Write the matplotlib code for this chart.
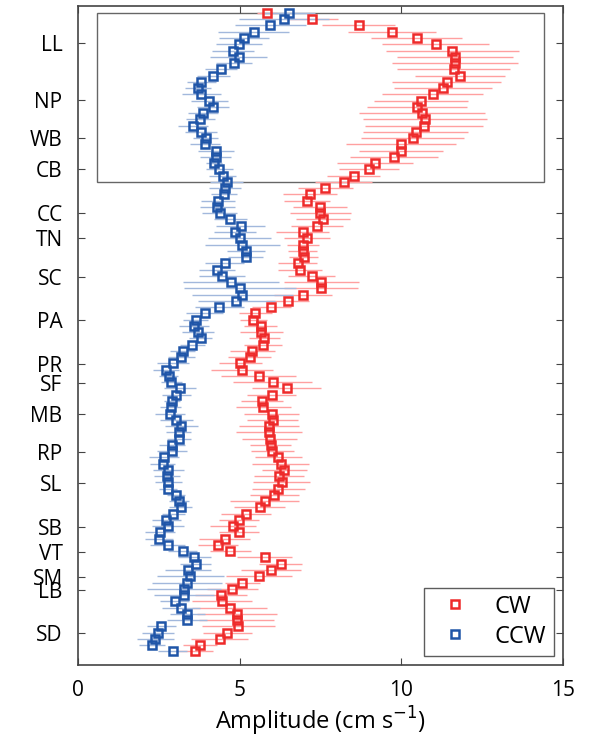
import matplotlib.pyplot as plt
import numpy as np
from matplotlib.patches import Rectangle

# amplitude per alongshore station (north -> south), cm/s
cw = [5.85, 7.24, 8.68, 9.71, 10.48, 11.07, 11.58, 11.66, 11.66, 11.62,
      11.81, 11.41, 11.30, 10.97, 10.61, 10.50, 10.64, 10.74, 10.71, 10.45,
      10.35, 9.99, 9.99, 9.78, 9.20, 9.01, 8.53, 8.22, 7.65, 7.18,
      7.09, 7.49, 7.50, 7.58, 7.40, 6.96, 7.08, 6.96, 6.96, 6.98,
      6.80, 6.88, 7.23, 7.52, 7.52, 6.96, 6.49, 5.98, 5.49, 5.43,
      5.65, 5.67, 5.77, 5.73, 5.40, 5.31, 5.02, 5.08, 5.59, 6.02,
      6.46, 5.99, 5.70, 5.74, 5.99, 6.02, 5.91, 5.91, 5.94, 5.96,
      6.01, 6.20, 6.27, 6.39, 6.23, 6.30, 6.20, 6.08, 5.78, 5.62,
      5.21, 4.98, 4.80, 4.97, 4.54, 4.33, 4.72, 5.78, 6.27, 5.98,
      5.60, 5.08, 4.78, 4.42, 4.45, 4.69, 4.92, 4.91, 4.96, 4.62,
      4.39, 3.78, 3.62]
cw_err = [0.30, 0.80, 1.12, 1.37, 1.40, 1.65, 2.06, 1.80, 1.94, 1.75,
          1.39, 1.69, 1.52, 1.56, 1.46, 1.55, 1.94, 1.92, 1.83, 1.62,
          1.60, 1.70, 1.29, 1.35, 1.18, 0.93, 0.82, 0.88, 0.85, 0.84,
          0.70, 0.84, 0.95, 0.84, 0.81, 0.82, 0.72, 0.49, 0.45, 0.44,
          0.60, 0.68, 0.72, 1.16, 1.13, 0.90, 0.67, 0.60, 0.50, 0.41,
          0.52, 0.67, 0.49, 0.58, 0.71, 0.67, 0.67, 0.95, 1.16, 1.23,
          1.07, 0.77, 0.65, 0.85, 0.85, 0.78, 0.92, 1.01, 0.85, 0.64,
          0.67, 0.72, 0.89, 0.70, 0.77, 0.89, 0.81, 0.75, 1.07, 0.80,
          0.77, 0.62, 0.70, 0.62, 0.78, 0.62, 0.62, 0.85, 0.66, 0.93,
          1.03, 0.54, 0.79, 0.80, 0.93, 1.16, 1.24, 1.17, 1.13, 0.75,
          0.88, 0.52, 0.57]
ccw = [6.53, 6.37, 5.95, 5.44, 5.13, 4.98, 4.79, 4.97, 4.83, 4.42,
       4.19, 3.82, 3.71, 3.82, 4.06, 4.18, 3.87, 3.79, 3.57, 3.81,
       3.95, 3.93, 4.27, 4.27, 4.22, 4.37, 4.48, 4.60, 4.54, 4.52,
       4.33, 4.31, 4.39, 4.72, 5.03, 4.85, 5.00, 5.09, 5.20, 5.19,
       4.54, 4.30, 4.46, 4.73, 5.02, 5.08, 4.90, 4.38, 3.92, 3.64,
       3.60, 3.71, 3.80, 3.54, 3.24, 3.20, 2.94, 2.73, 2.81, 2.89,
       3.15, 3.05, 2.92, 2.87, 2.86, 3.05, 3.20, 3.12, 3.13, 2.92,
       2.90, 2.66, 2.62, 2.80, 2.75, 2.80, 2.80, 3.04, 3.12, 3.18,
       2.95, 2.74, 2.78, 2.53, 2.51, 2.78, 3.24, 3.60, 3.64, 3.40,
       3.48, 3.38, 3.28, 3.27, 2.99, 3.20, 3.38, 3.37, 2.58, 2.48,
       2.40, 2.30, 2.93]
ccw_err = [0.80, 1.40, 1.10, 1.10, 0.78, 0.72, 0.65, 0.88, 0.55, 0.50,
           0.50, 0.45, 0.41, 0.60, 0.57, 0.49, 0.46, 0.46, 0.46, 0.50,
           0.38, 0.47, 0.56, 0.48, 0.25, 0.42, 0.41, 0.50, 0.49, 0.39,
           0.52, 0.54, 0.54, 0.52, 0.76, 0.65, 0.97, 1.17, 0.59, 0.55,
           0.60, 0.55, 0.72, 1.49, 1.73, 1.56, 1.19, 0.77, 0.57, 0.39,
           0.46, 0.50, 0.36, 0.39, 0.39, 0.41, 0.49, 0.41, 0.30, 0.33,
           0.49, 0.44, 0.25, 0.33, 0.46, 0.51, 0.51, 0.39, 0.36, 0.40,
           0.46, 0.46, 0.39, 0.49, 0.41, 0.41, 0.28, 0.28, 0.31, 0.36,
           0.36, 0.46, 0.49, 0.46, 0.44, 0.54, 0.45, 0.51, 0.49, 0.72,
           1.03, 1.08, 1.14, 0.93, 0.46, 0.59, 0.54, 0.62, 0.44, 0.49,
           0.58, 0.41, 0.46]

sites = ['LL', 'NP', 'WB', 'CB', 'CC', 'TN', 'SC', 'PA', 'PR', 'SF',
         'MB', 'RP', 'SL', 'SB', 'VT', 'SM', 'LB', 'SD']
site_pos = [4.8, 13.9, 20.0, 24.9, 32.0, 35.9, 42.2, 49.0, 56.1, 59.1,
            64.1, 70.1, 75.1, 82.1, 86.1, 90.1, 92.2, 99.0]

station = np.arange(len(cw))

plt.rcParams['font.family'] = ['Open Sans', 'DejaVu Sans']

fig = plt.figure(figsize=(5.9, 7.42), dpi=100)
ax = fig.add_axes([0.132, 0.104, 0.822, 0.888])

ax.errorbar(cw, station, xerr=cw_err, fmt='none', ecolor='#ffa0a0', elinewidth=1.0, zorder=2)
ax.errorbar(ccw, station, xerr=ccw_err, fmt='none', ecolor='#a2b8dc', elinewidth=1.0, zorder=2)
ax.plot(cw, station, 's', ms=5.8, mfc='none', mec='#ee2a2a', mew=1.8, label='CW', zorder=3)
ax.plot(ccw, station, 's', ms=5.8, mfc='none', mec='#1f55a8', mew=1.8, label='CCW', zorder=3)

ax.add_patch(Rectangle((0.58, -0.05), 13.84, 27.0, fill=False, ec='#666666', lw=1.0, zorder=1))

ax.set_xlim(0, 15)
ax.set_ylim(104.15, -1.12)
ax.set_xticks([0, 5, 10, 15])
ax.set_yticks(site_pos)
ax.set_yticklabels(sites)
ax.tick_params(direction='in', top=True, right=True, length=5, color='#444444')
ax.tick_params(axis='x', labelsize=15, pad=11)
ax.tick_params(axis='y', labelsize=15, pad=11)
for s in ax.spines.values():
    s.set_color('#444444')
    s.set_linewidth(1.2)
ax.set_xlabel('Amplitude (cm s$^{-1}$)', fontsize=17, labelpad=3)

leg = ax.legend(loc='lower right', fontsize=17, frameon=True, fancybox=False,
                edgecolor='#333333', handletextpad=0.7, borderpad=0.3,
                labelspacing=0.25, borderaxespad=0, bbox_to_anchor=(0.981, 0.014))
leg.get_frame().set_linewidth(1.0)

fig.savefig('out.png', dpi=100)
